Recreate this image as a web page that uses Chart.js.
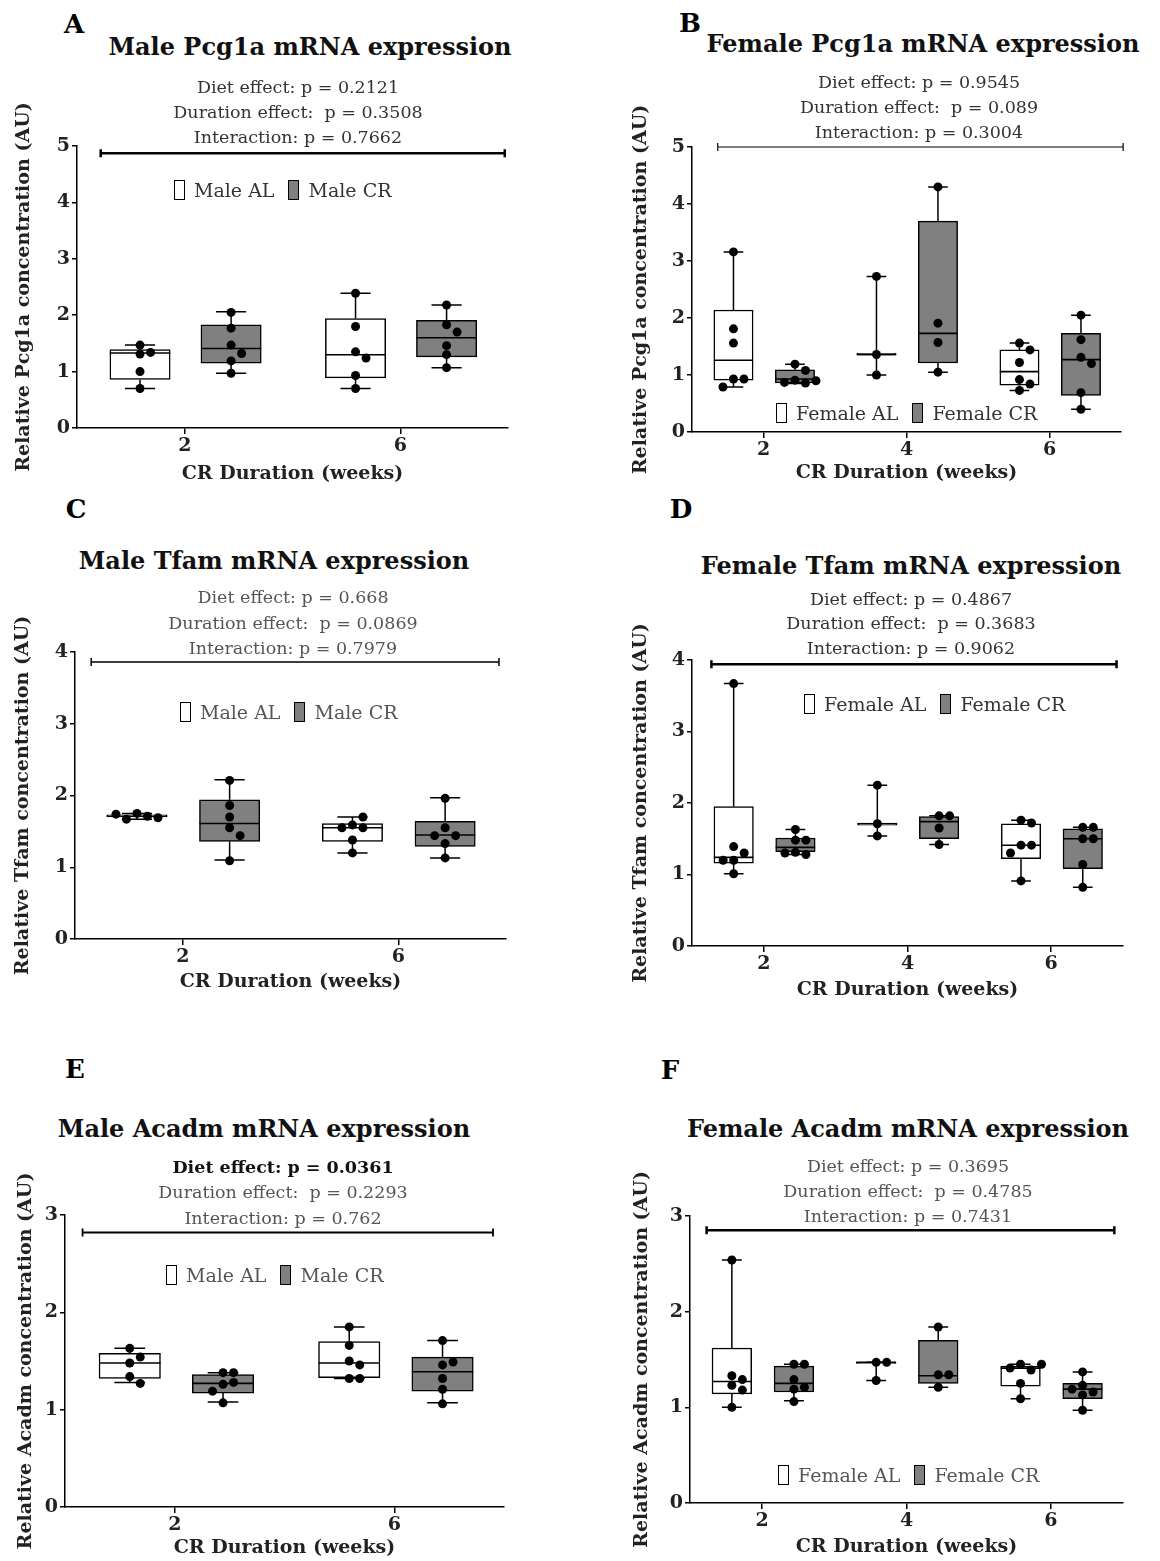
<!DOCTYPE html>
<html>
<head>
<meta charset="utf-8">
<script src="https://cdn.jsdelivr.net/npm/chart.js@4.4.1/dist/chart.umd.min.js"></script>
<style>
html, body { margin: 0; padding: 0; background: #fff; }
body { width: 1160px; height: 1561px; position: relative; overflow: hidden; font-family: "DejaVu Serif", serif; }
.abs { position: absolute; white-space: pre; }
.letter { font-weight: bold; font-size: 26px; color: #000; transform: translate(-50%, -50%); }
.title { font-weight: bold; font-size: 24px; color: #111; transform: translate(-50%, -50%); }
.stat { font-size: 17.5px; color: #333; transform: translate(-50%, -50%); }
.legend { font-size: 19px; display: flex; align-items: center; transform: translateY(-50%); }
.swatch { display: inline-block; width: 11px; height: 20px; border: 1.5px solid #000; box-sizing: border-box; margin-right: 9px; }
canvas { position: absolute; }
</style>
</head>
<body>
<script>
const FONT = '"DejaVu Serif", serif';

// CR duration categories (weeks)
const weeksMale = [2, 6];
const weeksFemale = [2, 4, 6];

// box stats are [min, q1, median, q3, max] per week, points are the single animals

// A - Male Pcg1a
const pcgMaleAL = [[1.31, 1.34, 1.47, 1.00, 0.70], [2.39, 1.80, 1.35, 1.24, 0.93, 0.70]];
const pcgMaleCR = [[2.05, 1.77, 1.47, 1.32, 1.19, 0.97], [2.18, 1.83, 1.70, 1.46, 1.30, 1.07]];
const pcgMaleALBox = [[0.70, 0.86, 1.33, 1.39, 1.47], [0.70, 0.89, 1.30, 1.94, 2.39]];
const pcgMaleCRBox = [[0.97, 1.15, 1.41, 1.83, 2.06], [1.07, 1.26, 1.60, 1.91, 2.18]];

// B - Female Pcg1a
const pcgFemaleAL = [[3.16, 1.81, 1.56, 0.93, 0.93, 0.79], [2.73, 1.36, 1.00], [1.56, 1.44, 1.22, 0.92, 0.84, 0.73]];
const pcgFemaleCR = [[1.19, 1.08, 0.91, 0.86, 0.87, 0.90], [4.30, 1.91, 1.57, 1.05], [2.05, 1.62, 1.31, 1.20, 0.69, 0.40]];
const pcgFemaleALBox = [[0.79, 0.91, 1.26, 2.14, 3.16], [1.00, 1.35, 1.36, 1.38, 2.73], [0.73, 0.82, 1.06, 1.44, 1.56]];
const pcgFemaleCRBox = [[0.85, 0.86, 0.93, 1.09, 1.19], [1.05, 1.21, 1.73, 3.70, 4.30], [0.40, 0.64, 1.27, 1.73, 2.05]];

// C - Male Tfam
const tfamMaleAL = [[1.75, 1.71, 1.67, 1.69, 1.74], [1.59, 1.55, 1.55, 1.70, 1.38, 1.20]];
const tfamMaleCR = [[2.21, 1.86, 1.70, 1.55, 1.44, 1.09], [1.96, 1.55, 1.44, 1.44, 1.33, 1.13]];
const tfamMaleALBox = [[1.67, 1.70, 1.71, 1.73, 1.75], [1.20, 1.36, 1.55, 1.61, 1.70]];
const tfamMaleCRBox = [[1.10, 1.36, 1.61, 1.94, 2.22], [1.13, 1.29, 1.45, 1.64, 1.97]];

// D - Female Tfam
const tfamFemaleAL = [[3.67, 1.39, 1.30, 1.20, 1.20, 1.01], [2.25, 1.71, 1.54], [1.76, 1.72, 1.41, 1.41, 1.30, 0.91]];
const tfamFemaleCR = [[1.63, 1.48, 1.48, 1.31, 1.28, 1.30], [1.82, 1.82, 1.65, 1.42], [1.66, 1.66, 1.50, 1.50, 1.14, 0.82]];
const tfamFemaleALBox = [[1.01, 1.16, 1.24, 1.95, 3.67], [1.54, 1.69, 1.71, 1.72, 2.25], [0.91, 1.22, 1.41, 1.71, 1.76]];
const tfamFemaleCRBox = [[1.28, 1.32, 1.38, 1.51, 1.63], [1.42, 1.50, 1.74, 1.81, 1.82], [0.82, 1.08, 1.50, 1.64, 1.66]];

// E - Male Acadm
const acadmMaleAL = [[1.63, 1.54, 1.48, 1.34, 1.27], [1.85, 1.66, 1.50, 1.46, 1.32, 1.32]];
const acadmMaleCR = [[1.38, 1.38, 1.26, 1.28, 1.19, 1.07], [1.71, 1.46, 1.49, 1.32, 1.21, 1.06]];
const acadmMaleALBox = [[1.28, 1.32, 1.48, 1.58, 1.63], [1.32, 1.33, 1.48, 1.70, 1.85]];
const acadmMaleCRBox = [[1.08, 1.17, 1.27, 1.36, 1.38], [1.07, 1.19, 1.39, 1.54, 1.71]];

// F - Female Acadm
const acadmFemaleAL = [[2.54, 1.33, 1.29, 1.23, 1.18, 1.00], [1.47, 1.47, 1.28], [1.45, 1.39, 1.41, 1.45, 1.25, 1.09]];
const acadmFemaleCR = [[1.45, 1.45, 1.29, 1.21, 1.19, 1.06], [1.84, 1.34, 1.34, 1.21], [1.37, 1.23, 1.16, 1.13, 1.19, 0.97]];
const acadmFemaleALBox = [[1.00, 1.14, 1.27, 1.62, 2.54], [1.28, 1.46, 1.47, 1.47, 1.47], [1.09, 1.22, 1.41, 1.43, 1.45]];
const acadmFemaleCRBox = [[1.07, 1.16, 1.25, 1.43, 1.45], [1.21, 1.25, 1.33, 1.70, 1.84], [0.97, 1.09, 1.19, 1.25, 1.37]];

// two-way ANOVA results
const statsA = ['Diet effect: p = 0.2121', 'Duration effect:  p = 0.3508', 'Interaction: p = 0.7662'];
const statsB = ['Diet effect: p = 0.9545', 'Duration effect:  p = 0.089', 'Interaction: p = 0.3004'];
const statsC = ['Diet effect: p = 0.668', 'Duration effect:  p = 0.0869', 'Interaction: p = 0.7979'];
const statsD = ['Diet effect: p = 0.4867', 'Duration effect:  p = 0.3683', 'Interaction: p = 0.9062'];
const statsE = ['Diet effect: p = 0.0361', 'Duration effect:  p = 0.2293', 'Interaction: p = 0.762'];
const statsF = ['Diet effect: p = 0.3695', 'Duration effect:  p = 0.4785', 'Interaction: p = 0.7431'];

const maleLegend = ['Male AL', 'Male CR'];
const femaleLegend = ['Female AL', 'Female CR'];

const panels = [
  { letter: 'A', title: 'Male Pcg1a mRNA expression', stats: statsA, yLabel: 'Relative Pcg1a concentration (AU)',
    weeks: weeksMale, al: pcgMaleAL, cr: pcgMaleCR, alBox: pcgMaleALBox, crBox: pcgMaleCRBox, names: maleLegend,
    xMin: 0, xMax: 8, yMax: 5, offs: [-0.83, 0.86], boxW: 1.12,
    plot: { l: 77, t: 146, r: 508, b: 428 }, canvasL: 10, canvasB: 487,
    letterPos: [74, 24], titlePos: [310, 46], statX: 298, statY: [87, 112, 137],
    legend: [174, 190], textColor: '#333', bracket: [0.44, 7.94, 4.87], bracketW: 2.5 },
  { letter: 'B', title: 'Female Pcg1a mRNA expression', stats: statsB, yLabel: 'Relative Pcg1a concentration (AU)',
    weeks: weeksFemale, al: pcgFemaleAL, cr: pcgFemaleCR, alBox: pcgFemaleALBox, crBox: pcgFemaleCRBox, names: femaleLegend,
    xMin: 1, xMax: 7, yMax: 5, offs: [-0.42, 0.44], boxW: 0.55,
    plot: { l: 692, t: 147, r: 1121, b: 432 }, canvasL: 627, canvasB: 486,
    letterPos: [690, 23], titlePos: [923, 43], statX: 919, statY: [82, 107, 132],
    legend: [776, 413], textColor: '#333', bracket: [1.36, 7.03, 5.0], bracketW: 1.2 },
  { letter: 'C', title: 'Male Tfam mRNA expression', stats: statsC, yLabel: 'Relative Tfam concentration (AU)',
    weeks: weeksMale, al: tfamMaleAL, cr: tfamMaleCR, alBox: tfamMaleALBox, crBox: tfamMaleCRBox, names: maleLegend,
    xMin: 0, xMax: 8, yMax: 4, offs: [-0.85, 0.87], boxW: 1.12,
    plot: { l: 75, t: 652, r: 506, b: 939 }, canvasL: 9, canvasB: 995,
    letterPos: [76, 509], titlePos: [274, 560], statX: 293, statY: [597, 623, 648],
    legend: [180, 712], textColor: '#555', bracket: [0.30, 7.87, 3.86], bracketW: 1.5 },
  { letter: 'D', title: 'Female Tfam mRNA expression', stats: statsD, yLabel: 'Relative Tfam concentration (AU)',
    weeks: weeksFemale, al: tfamFemaleAL, cr: tfamFemaleCR, alBox: tfamFemaleALBox, crBox: tfamFemaleCRBox, names: femaleLegend,
    xMin: 1, xMax: 7, yMax: 4, offs: [-0.42, 0.44], boxW: 0.55,
    plot: { l: 692, t: 660, r: 1123, b: 946 }, canvasL: 627, canvasB: 1003,
    letterPos: [681, 509], titlePos: [911, 565], statX: 911, statY: [599, 623, 648],
    legend: [804, 704], textColor: '#333', bracket: [1.27, 6.91, 3.94], bracketW: 2.5 },
  { letter: 'E', title: 'Male Acadm mRNA expression', stats: statsE, yLabel: 'Relative Acadm concentration (AU)',
    weeks: weeksMale, al: acadmMaleAL, cr: acadmMaleCR, alBox: acadmMaleALBox, crBox: acadmMaleCRBox, names: maleLegend,
    xMin: 0, xMax: 8, yMax: 3, offs: [-0.82, 0.88], boxW: 1.12,
    plot: { l: 65, t: 1215, r: 504, b: 1507 }, canvasL: 12, canvasB: 1561,
    letterPos: [75, 1069], titlePos: [264, 1128], statX: 283, statY: [1167, 1192, 1218],
    legend: [166, 1275], textColor: '#555', boldFirst: true, bracket: [0.32, 7.80, 2.82], bracketW: 1.8 },
  { letter: 'F', title: 'Female Acadm mRNA expression', stats: statsF, yLabel: 'Relative Acadm concentration (AU)',
    weeks: weeksFemale, al: acadmFemaleAL, cr: acadmFemaleCR, alBox: acadmFemaleALBox, crBox: acadmFemaleCRBox, names: femaleLegend,
    xMin: 1, xMax: 7, yMax: 3, offs: [-0.42, 0.44], boxW: 0.55,
    plot: { l: 690, t: 1216, r: 1123, b: 1503 }, canvasL: 628, canvasB: 1560,
    letterPos: [670, 1070], titlePos: [908, 1128], statX: 908, statY: [1166, 1191, 1216],
    legend: [778, 1475], textColor: '#555', bracket: [1.23, 6.88, 2.85], bracketW: 2.5 }
];

const DOT_R = 4.5;

function addText(cls, txt, x, y, extra) {
  const el = document.createElement('div');
  el.className = 'abs ' + cls;
  el.textContent = txt;
  el.style.left = x + 'px';
  el.style.top = y + 'px';
  if (extra) Object.assign(el.style, extra);
  document.body.appendChild(el);
  return el;
}

// spread points sideways so they don't overlap (like a scatter "swarm")
function swarm(values, center, pxX, pxY) {
  const placed = [];
  const d = 2 * DOT_R + 1.5;
  return values.map(v => {
    const cy = v * pxY;
    for (let k = 0; k < 14; k++) {
      const off = k === 0 ? 0 : (k % 2 ? 1 : -1) * Math.ceil(k / 2) * d;
      const ok = placed.every(q => Math.hypot(q.dx - off, q.cy - cy) >= 2 * DOT_R);
      if (ok) {
        placed.push({ dx: off, cy: cy });
        return { x: center + off / pxX, y: v };
      }
    }
    return { x: center, y: v };
  });
}

function buildPanel(p) {
  // canvas first, html text goes on top of it
  const padTop = 70, padRight = 14;
  const top = p.plot.t - padTop;
  const w = p.plot.r + padRight - p.canvasL;
  const h = p.canvasB - top;
  const cv = document.createElement('canvas');
  cv.width = w; cv.height = h;
  cv.style.left = p.canvasL + 'px';
  cv.style.top = top + 'px';
  cv.style.width = w + 'px';
  cv.style.height = h + 'px';
  document.body.appendChild(cv);

  // texts
  addText('letter', p.letter, p.letterPos[0], p.letterPos[1]);
  addText('title', p.title, p.titlePos[0], p.titlePos[1]);
  p.stats.forEach((s, i) => {
    const extra = { color: p.textColor };
    if (p.boldFirst && i === 0) { extra.fontWeight = 'bold'; extra.color = '#111'; }
    addText('stat', s, p.statX, p.statY[i], extra);
  });

  // legend
  const lg = document.createElement('div');
  lg.className = 'abs legend';
  lg.style.left = p.legend[0] + 'px';
  lg.style.top = p.legend[1] + 'px';
  lg.style.color = p.textColor;
  p.names.forEach((n, i) => {
    const sw = document.createElement('span');
    sw.className = 'swatch';
    sw.style.background = i === 0 ? '#fff' : '#808080';
    const tx = document.createElement('span');
    tx.textContent = n;
    tx.style.marginRight = i === 0 ? '14px' : '0';
    lg.appendChild(sw);
    lg.appendChild(tx);
  });
  document.body.appendChild(lg);

  const pxX = (p.plot.r - p.plot.l) / (p.xMax - p.xMin);
  const pxY = (p.plot.b - p.plot.t) / p.yMax;
  const barPx = p.boxW * pxX;

  const alPos = p.weeks.map(wk => wk + p.offs[0]);
  const crPos = p.weeks.map(wk => wk + p.offs[1]);

  const groups = [
    { pos: alPos, box: p.alBox },
    { pos: crPos, box: p.crBox }
  ];

  const alPts = [], crPts = [];
  p.weeks.forEach((wk, i) => {
    alPts.push(...swarm(p.al[i], alPos[i], pxX, pxY));
    crPts.push(...swarm(p.cr[i], crPos[i], pxX, pxY));
  });

  const boxPlugin = {
    id: 'boxes' + p.letter,
    beforeDatasetsDraw(chart) {
      const { ctx, scales } = chart;
      const x = scales.x, y = scales.y;
      ctx.save();
      ctx.strokeStyle = '#000';
      ctx.lineWidth = 1.5;
      groups.forEach(g => {
        g.pos.forEach((xv, i) => {
          const [mn, q1, , q3, mx] = g.box[i];
          const cx = x.getPixelForValue(xv);
          const half = barPx / 4;
          ctx.beginPath();
          ctx.moveTo(cx, y.getPixelForValue(q3));
          ctx.lineTo(cx, y.getPixelForValue(mx));
          ctx.moveTo(cx - half, y.getPixelForValue(mx));
          ctx.lineTo(cx + half, y.getPixelForValue(mx));
          ctx.moveTo(cx, y.getPixelForValue(q1));
          ctx.lineTo(cx, y.getPixelForValue(mn));
          ctx.moveTo(cx - half, y.getPixelForValue(mn));
          ctx.lineTo(cx + half, y.getPixelForValue(mn));
          ctx.stroke();
        });
      });
      // bracket over all groups
      const [b0, b1, bv] = p.bracket;
      const by = y.getPixelForValue(bv);
      const bx0 = x.getPixelForValue(b0), bx1 = x.getPixelForValue(b1);
      ctx.lineWidth = p.bracketW;
      ctx.beginPath();
      ctx.moveTo(bx0, by); ctx.lineTo(bx1, by);
      ctx.moveTo(bx0, by - 4); ctx.lineTo(bx0, by + 4);
      ctx.moveTo(bx1, by - 4); ctx.lineTo(bx1, by + 4);
      ctx.stroke();
      ctx.restore();
    },
    afterDatasetDraw(chart, args) {
      if (args.index > 1) return;
      const g = groups[args.index];
      const { ctx, scales } = chart;
      ctx.save();
      ctx.strokeStyle = '#000';
      ctx.lineWidth = 1.6;
      g.pos.forEach((xv, i) => {
        const cx = scales.x.getPixelForValue(xv);
        const my = scales.y.getPixelForValue(g.box[i][2]);
        ctx.beginPath();
        ctx.moveTo(cx - barPx / 2, my);
        ctx.lineTo(cx + barPx / 2, my);
        ctx.stroke();
      });
      ctx.restore();
    }
  };

  const barSet = (g, fill) => ({
    type: 'bar',
    data: g.pos.map((xv, i) => ({ x: xv, y: [g.box[i][1], g.box[i][3]] })),
    backgroundColor: fill,
    borderColor: '#000',
    borderWidth: 1.5,
    borderSkipped: false,
    barThickness: barPx,
    grouped: false,
    order: 2
  });

  const dotSet = pts => ({
    type: 'scatter',
    data: pts,
    pointRadius: DOT_R,
    pointBackgroundColor: '#000',
    pointBorderWidth: 0,
    showLine: false,
    order: 1
  });

  const tickFont = { family: FONT, size: 19, weight: 'bold' };
  const titleFont = { family: FONT, size: 19, weight: 'bold' };

  new Chart(cv, {
    type: 'scatter',
    data: {
      datasets: [barSet(groups[0], '#ffffff'), barSet(groups[1], '#808080'), dotSet(alPts), dotSet(crPts)]
    },
    options: {
      responsive: false,
      animation: false,
      events: [],
      layout: { padding: { top: padTop, right: padRight, left: 0, bottom: 0 } },
      plugins: { legend: { display: false }, tooltip: { enabled: false } },
      scales: {
        x: {
          type: 'linear',
          min: p.xMin,
          max: p.xMax,
          offset: false,
          afterBuildTicks: s => { s.ticks = p.weeks.map(v => ({ value: v })); },
          afterFit: s => { s.height = p.canvasB - p.plot.b; },
          grid: { drawOnChartArea: false, drawTicks: true, tickLength: 6, color: '#000', lineWidth: 1.5, offset: false },
          border: { color: '#000', width: 1.5 },
          ticks: { color: '#222', font: tickFont, padding: 1, maxRotation: 0, autoSkip: false },
          title: { display: true, text: 'CR Duration (weeks)', color: '#222', font: titleFont, padding: { top: 0, bottom: 2 } }
        },
        y: {
          min: 0,
          max: p.yMax,
          afterFit: s => { s.width = p.plot.l - p.canvasL; },
          grid: { drawOnChartArea: false, drawTicks: true, tickLength: 5, color: '#000', lineWidth: 1.5 },
          border: { color: '#000', width: 1.5 },
          ticks: { color: '#222', font: tickFont, padding: 2, stepSize: 1 },
          title: { display: true, text: p.yLabel, color: '#222', font: titleFont, padding: { top: 3, bottom: 0 } }
        }
      }
    },
    plugins: [boxPlugin]
  });
}

panels.forEach(buildPanel);
</script>
</body>
</html>
